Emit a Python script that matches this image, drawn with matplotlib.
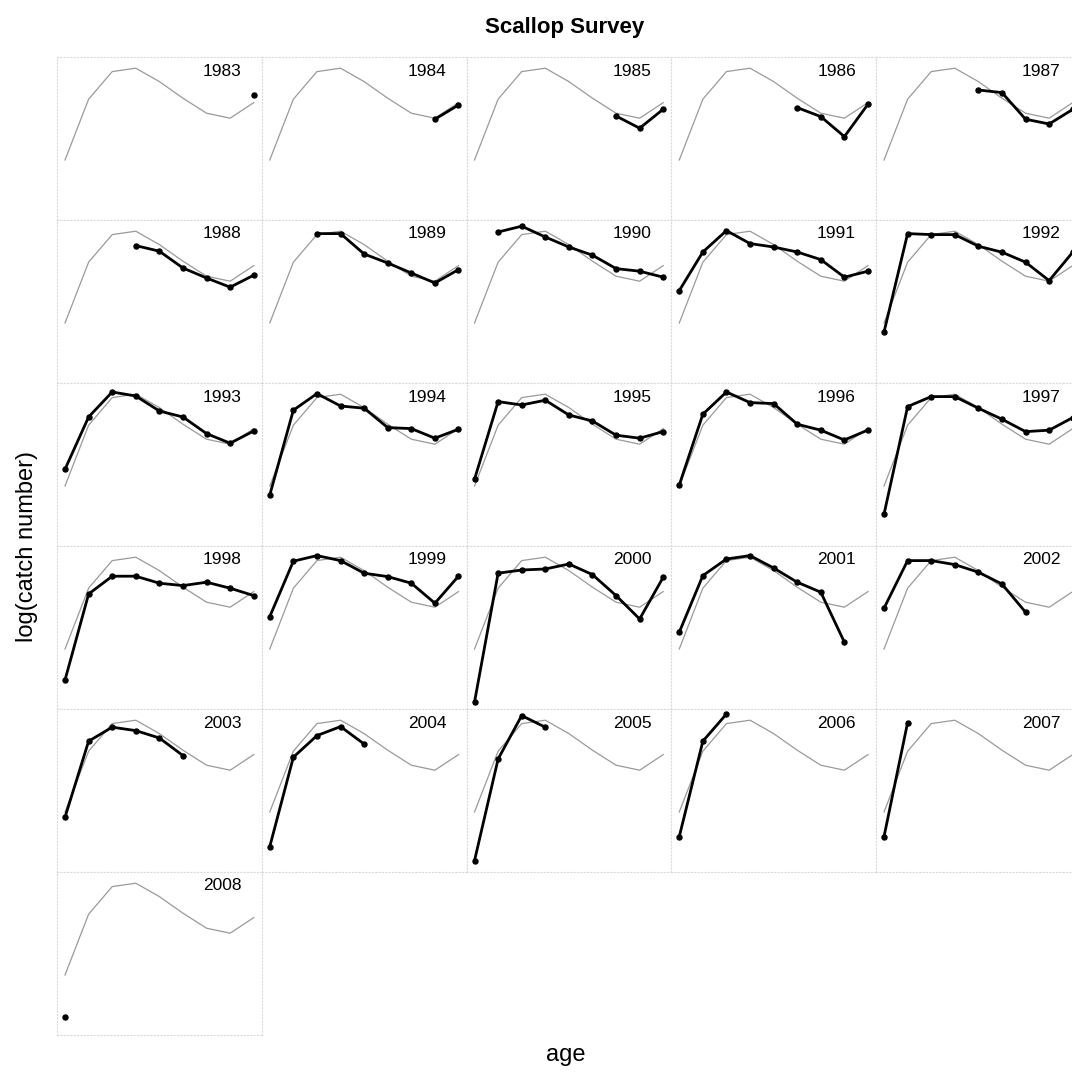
import numpy as np
import matplotlib
matplotlib.use("Agg")
import matplotlib.pyplot as plt

plt.rcParams['font.family'] = ['Liberation Sans', 'DejaVu Sans']

nan = np.nan

# Ages sampled by the survey
ages = [1, 2, 3, 4, 5, 6, 7, 8, 9]

# Average log catch at age across all year classes (grey reference curve)
mean_curve = [2.85, 5.89, 7.27, 7.44, 6.77, 5.94, 5.19, 4.94, 5.72]

# Log catch number by age for each year class (nan = not surveyed)
yc1983 = [nan, nan, nan, nan, nan, nan, nan, nan, 6.10]
yc1984 = [nan, nan, nan, nan, nan, nan, nan, 4.89, 5.60]
yc1985 = [nan, nan, nan, nan, nan, nan, 5.05, 4.44, 5.39]
yc1986 = [nan, nan, nan, nan, nan, 5.47, 5.02, 4.02, 5.64]
yc1987 = [nan, nan, nan, nan, 6.35, 6.22, 4.89, 4.65, 5.38]
yc1988 = [nan, nan, nan, 6.72, 6.44, 5.60, 5.10, 4.64, 5.24]
yc1989 = [nan, nan, 7.32, 7.32, 6.30, 5.85, 5.35, 4.85, 5.52]
yc1990 = [nan, 7.40, 7.69, 7.15, 6.65, 6.24, 5.57, 5.44, 5.14]
yc1991 = [4.47, 6.40, 7.47, 6.82, 6.65, 6.40, 6.02, 5.14, 5.44]
yc1992 = [2.40, 7.32, 7.27, 7.27, 6.69, 6.39, 5.89, 4.97, 6.39]
yc1993 = [3.69, 6.30, 7.55, 7.35, 6.60, 6.30, 5.47, 4.99, 5.60]
yc1994 = [2.40, 6.64, 7.47, 6.85, 6.74, 5.77, 5.72, 5.24, 5.69]
yc1995 = [3.19, 7.07, 6.90, 7.14, 6.40, 6.10, 5.39, 5.24, 5.57]
yc1996 = [2.90, 6.44, 7.55, 7.02, 6.97, 5.94, 5.64, 5.15, 5.65]
yc1997 = [1.44, 6.82, 7.32, 7.32, 6.74, 6.19, 5.57, 5.64, 6.27]
yc1998 = [1.30, 5.60, 6.49, 6.49, 6.14, 6.02, 6.19, 5.89, 5.52]
yc1999 = [4.47, 7.24, 7.52, 7.27, 6.64, 6.47, 6.14, 5.14, 6.49]
yc2000 = [0.20, 6.64, 6.80, 6.85, 7.10, 6.57, 5.52, 4.35, 6.44]
yc2001 = [3.69, 6.52, 7.35, 7.52, 6.90, 6.19, 5.69, 3.19, nan]
yc2002 = [4.89, 7.27, 7.27, 7.07, 6.69, 6.10, 4.69, nan, nan]
yc2003 = [2.59, 6.39, 7.09, 6.92, 6.55, 5.67, nan, nan, nan]
yc2004 = [1.12, 5.59, 6.67, 7.12, 6.25, nan, nan, nan, nan]
yc2005 = [0.42, 5.50, 7.67, 7.09, nan, nan, nan, nan, nan]
yc2006 = [1.62, 6.39, 7.75, nan, nan, nan, nan, nan, nan]
yc2007 = [1.62, 7.32, nan, nan, nan, nan, nan, nan, nan]
yc2008 = [0.77, nan, nan, nan, nan, nan, nan, nan, nan]

year_classes = list(range(1983, 2009))
series = [yc1983, yc1984, yc1985, yc1986, yc1987, yc1988, yc1989, yc1990,
          yc1991, yc1992, yc1993, yc1994, yc1995, yc1996, yc1997, yc1998,
          yc1999, yc2000, yc2001, yc2002, yc2003, yc2004, yc2005, yc2006,
          yc2007, yc2008]

W, H = 1072, 1075
fig = plt.figure(figsize=(W / 100, H / 100), dpi=100)

ncol = 5
x0, y0 = 57.0, 57.0
pw, ph = 204.75, 163.0

for i, (yc, vals) in enumerate(zip(year_classes, series)):
    r, c = divmod(i, ncol)
    left = (x0 + c * pw) / W
    bottom = 1 - (y0 + (r + 1) * ph) / H
    ax = fig.add_axes([left, bottom, pw / W, ph / H])
    ax.plot(ages, mean_curve, color='#9a9a9a', lw=0.9, zorder=2)
    v = np.array(vals, dtype=float)
    ok = ~np.isnan(v)
    ax.plot(np.array(ages)[ok], v[ok], color='black', lw=2.0,
            marker='o', ms=3.6, zorder=3)
    ax.set_xlim(0.66, 9.34)
    ax.set_ylim(-0.15, 8.0)
    ax.set_xticks([])
    ax.set_yticks([])
    for sp in ax.spines.values():
        sp.set_linestyle((0, (1, 2)))
        sp.set_color('#dadada')
        sp.set_linewidth(0.8)
    ax.text(1 - 20 / pw, 1 - 14 / ph, str(yc), transform=ax.transAxes,
            ha='right', va='center', fontsize=12.5, color='black')

fig.text(565 / W, 1 - 28 / H, 'Scallop Survey', ha='center', va='center',
         fontsize=16, fontweight='bold')
fig.text(27 / W, 1 - 546 / H, 'log(catch number)', rotation=90,
         ha='center', va='center', fontsize=17)
fig.text(566 / W, 1 - 1055 / H, 'age', ha='center', va='center', fontsize=17)

fig.savefig('out.png', dpi=100)
